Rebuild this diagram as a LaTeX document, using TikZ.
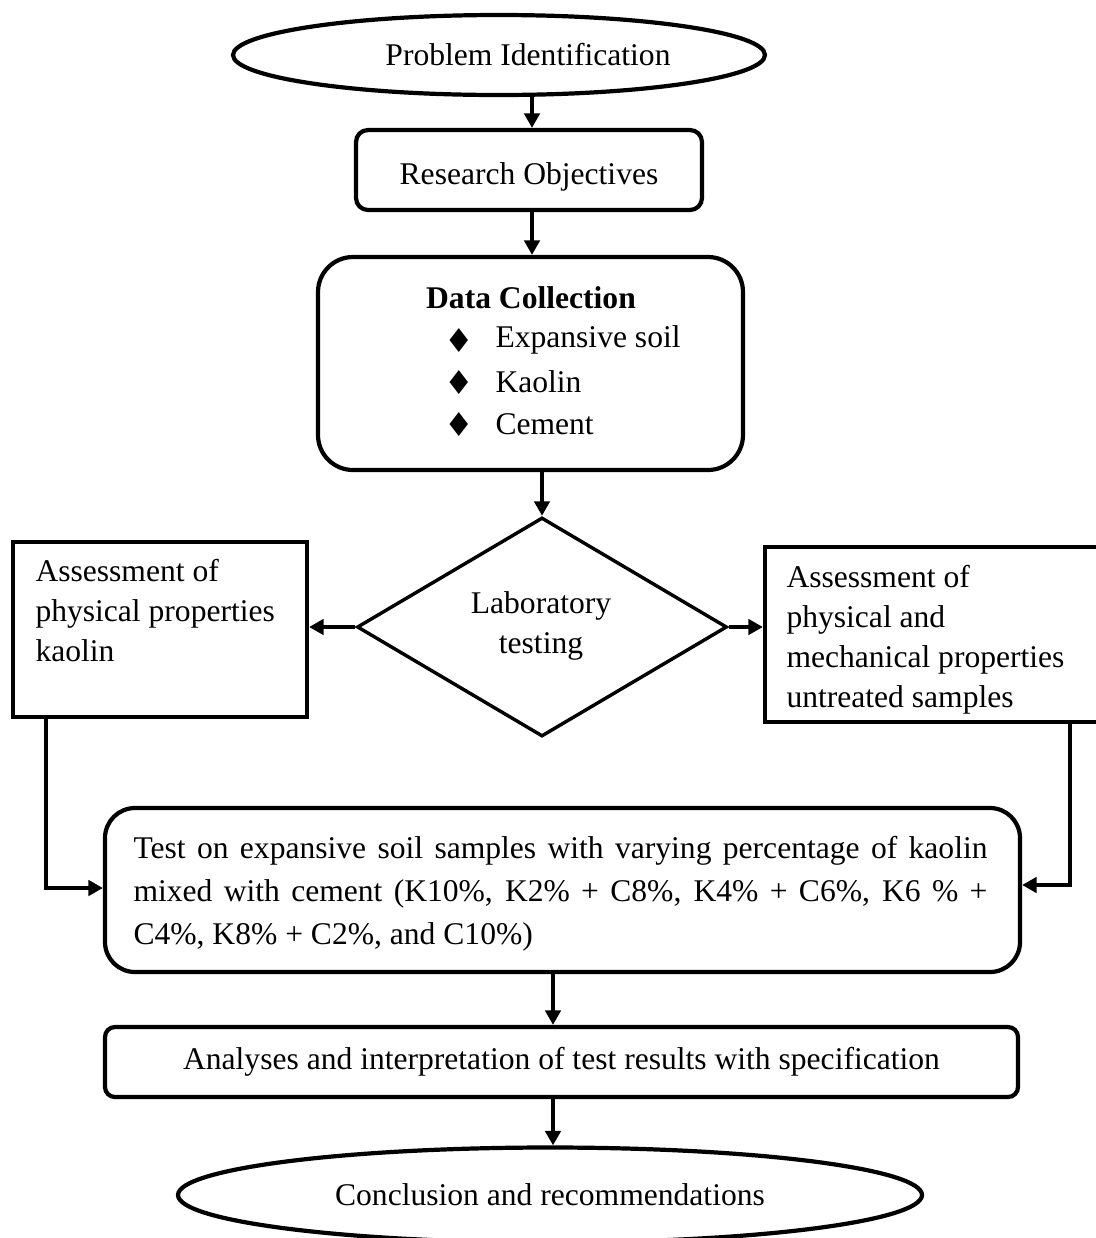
\documentclass[tikz,border=0pt]{standalone}
\usepackage{fontspec}
\setmainfont{Liberation Serif}
\newfontfamily\symfont{DejaVu Sans}
\usetikzlibrary{shapes.geometric,arrows.meta}

\newcommand\px{0.38pt}
\newcommand\dia{{\symfont\fontsize{12.5}{14}\selectfont ♦}}

\tikzset{
    every node/.style={font=\fontsize{12}{15.2}\selectfont},
    frame/.style={draw, line width=1.6pt, rectangle},
    term/.style={draw, line width=1.6pt, ellipse},
    decision/.style={draw, line width=1.3pt, diamond},
    flow/.style={line width=1.4pt, -{Triangle[length=5.5pt,width=5.8pt]}},
}

\begin{document}
\begin{tikzpicture}[x=\px, y=-\px]

        \useasboundingbox (0, 0) rectangle (1096, 1238);

        \node (prob) [term, minimum width=532*\px, minimum height=80*\px] at (499, 55) {};
        \node (probtxt) at (528, 55) {Problem Identification};

        \node (obj) [frame, rounded corners=12*\px, minimum width=346*\px, minimum height=80*\px] at (529, 170) {};
        \node (objtxt) at (529, 177) {Research Objectives};

        \node (data) [frame, rounded corners=35*\px, minimum width=425*\px, minimum height=213*\px] at (530.5, 363.5) {};
        \node (datatxt) at (531, 298) {\textbf{Data Collection}};
        \node (b1) at (459, 341) {\dia};
        \node (b2) at (459, 383) {\dia};
        \node (b3) at (459, 425) {\dia};
        \node (soil)   [anchor=west, inner sep=0pt] at (495, 340) {Expansive soil};
        \node (kaolin) [anchor=west, inner sep=0pt] at (495, 382) {Kaolin};
        \node (cement) [anchor=west, inner sep=0pt] at (495, 424) {Cement};

        \node (lab) [decision, minimum width=370*\px, minimum height=219*\px] at (542, 627) {};
        \node (labtxt) [align=center] at (541, 626) {Laboratory\\testing};

        \node (phys) [frame, minimum width=294*\px, minimum height=175*\px] at (160, 629.5) {};
        \node (phystxt) [anchor=north west, align=left, inner sep=0pt] at (35, 559)
            {Assessment of\\physical properties\\kaolin};

        \node (mech) [frame, minimum width=345*\px, minimum height=175*\px] at (937.5, 634.5) {};
        \node (mechtxt) [anchor=north west, align=left, inner sep=0pt] at (786, 565)
            {Assessment of\\physical and\\mechanical properties\\untreated samples};

        \node (test) [frame, rounded corners=30*\px, minimum width=915*\px, minimum height=164*\px] at (562.5, 890) {};
        \node (testtxt) [anchor=north west, align=justify, text width=854*\px, inner sep=0pt,
            font=\fontsize{12}{16.3}\selectfont] at (133, 836)
            {Test on expansive soil samples with varying percentage of kaolin\linebreak
             mixed with cement (K10\%, K2\% + C8\%, K4\% + C6\%, K6 \% +\linebreak
             C4\%, K8\% + C2\%, and C10\%)};

        \node (anal) [frame, rounded corners=10*\px, minimum width=913*\px, minimum height=70*\px] at (561.5, 1062)
            {Analyses and interpretation of test results with specification};

        \node (concl) [term, minimum width=744*\px, minimum height=95*\px] at (550, 1195)
            {Conclusion and recommendations};

        \coordinate (mid) at (553, 0);

        \draw [flow] (prob.south -| 532, 0) -- (obj.north -| 532, 0);
        \draw [flow] (obj.south -| 532, 0) -- (data.north -| 532, 0);
        \draw [flow] (data.south -| lab.north) -- (lab.north);
        \draw [flow] (lab.west) -- (lab.west -| phys.east);
        \draw [flow] (lab.east) -- (lab.east -| mech.west);
        \draw [flow] ([xshift=35*\px]phys.south west) |- ([yshift=2*\px]test.west);
        \draw [flow] ([xshift=307*\px]mech.south west) |- ([yshift=5*\px]test.east);
        \draw [flow] (test.south -| mid) -- (anal.north -| mid);
        \draw [flow] (anal.south -| mid) -- (concl.north -| mid);

    \end{tikzpicture}
\end{document}
